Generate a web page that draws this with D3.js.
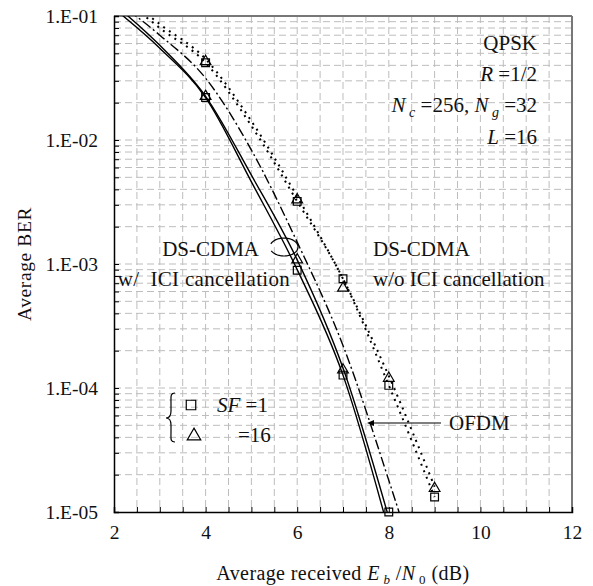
<!DOCTYPE html>
<html>
<head>
<meta charset="utf-8">
<script src="https://cdn.jsdelivr.net/npm/d3@7"></script>
<style>
  body { margin: 0; background: #fff; }
  text { font-family: 'Liberation Serif', 'Times New Roman', serif; fill: #111; }
</style>
</head>
<body>
<div id="chart"></div>
<script>
// Eb/N0 grid used for the curves (dB)
const ebn0 = [2, 3, 4, 5, 6, 7, 8, 9]

// DS-CDMA with ICI cancellation (solid)
const withIciSf1 = [0.115, 0.055, 0.022, 0.0046, 9.0e-4, 1.27e-4, 7e-6]
const withIciSf16 = [0.125, 0.058, 0.0225, 0.0052, 1.08e-3, 1.45e-4, 9e-6]
// OFDM (dash-dot)
const ofdm = [0.135, 0.07, 0.0315, 0.0083, 1.5e-3, 2.2e-4, 1.8e-5, 1.2e-6]
// DS-CDMA without ICI cancellation (dotted)
const withoutIciSf1 = [0.16, 0.08, 0.042, 0.013, 3.2e-3, 7.6e-4, 1.05e-4, 1.32e-5]
const withoutIciSf16 = [0.17, 0.086, 0.045, 0.0142, 3.5e-3, 7.6e-4, 1.25e-4, 1.6e-5]

// simulated points
const sqWithIciX = [4, 6, 7, 8]
const sqWithIciY = [0.022, 8.9e-4, 1.27e-4, 1.0e-5]
const triWithIciX = [4, 6, 7]
const triWithIciY = [0.0225, 1.08e-3, 1.4e-4]
const sqWithoutIciX = [4, 6, 7, 8, 9]
const sqWithoutIciY = [0.042, 3.2e-3, 7.6e-4, 1.05e-4, 1.32e-5]
const triWithoutIciX = [4, 6, 7, 8, 9]
const triWithoutIciY = [0.043, 3.3e-3, 6.4e-4, 1.2e-4, 1.55e-5]

const xTicks = [2, 4, 6, 8, 10, 12]
const yTicks = [1e-1, 1e-2, 1e-3, 1e-4, 1e-5]
const yTickLabels = ['1.E-01', '1.E-02', '1.E-03', '1.E-04', '1.E-05']

const width = 593
const height = 586
const margin = { left: 114, top: 16, right: 21, bottom: 74 }

const svg = d3.select('#chart')
  .append('svg')
  .attr('width', width)
  .attr('height', height)

const xScale = d3.scaleLinear()
  .domain([2, 12])
  .range([margin.left, width - margin.right])

const yScale = d3.scaleLog()
  .domain([1e-5, 1e-1])
  .range([height - margin.bottom, margin.top])

const [x0, x1] = xScale.range()
const [y0, y1] = yScale.range()

// grid
const xMinor = d3.range(2.5, 12, 0.5)
const yMinor = []
yTicks.slice(1).forEach(decade => {
  d3.range(1, 10).forEach(m => yMinor.push(decade * m))
})

svg.append('g')
  .selectAll('line')
  .data(xMinor)
  .join('line')
  .attr('x1', d => xScale(d))
  .attr('x2', d => xScale(d))
  .attr('y1', y1)
  .attr('y2', y0)
  .attr('stroke', '#bdbdbd')
  .attr('stroke-width', 1)
  .attr('stroke-dasharray', '7,4')

svg.append('g')
  .selectAll('line')
  .data(yMinor.filter(v => v > 1e-5 * 1.01 && v < 1e-1 * 0.99))
  .join('line')
  .attr('x1', x0)
  .attr('x2', x1)
  .attr('y1', d => yScale(d))
  .attr('y2', d => yScale(d))
  .attr('stroke', '#bdbdbd')
  .attr('stroke-width', 1)
  .attr('stroke-dasharray', '7,4')

// frame: top/right grey, left/bottom black
svg.append('line')
  .attr('x1', x0).attr('x2', x1).attr('y1', y1).attr('y2', y1)
  .attr('stroke', '#777').attr('stroke-width', 2)
svg.append('line')
  .attr('x1', x1).attr('x2', x1).attr('y1', y1).attr('y2', y0)
  .attr('stroke', '#777').attr('stroke-width', 2)

const tickFont = 19.5

const xAxis = d3.axisBottom(xScale)
  .tickValues(d3.range(2, 12.01, 0.5))
  .tickSize(-5)
  .tickFormat(d => (xTicks.includes(d) ? d : ''))

svg.append('g')
  .attr('transform', `translate(0, ${y0})`)
  .call(xAxis)
  .call(g => g.select('.domain').attr('stroke', '#000').attr('stroke-width', 1.5))
  .call(g => g.selectAll('.tick line').attr('stroke', '#000'))
  .call(g => g.selectAll('.tick text')
    .attr('y', 27)
    .attr('dy', 0)
    .style('font-size', tickFont + 'px'))

const yAxis = d3.axisLeft(yScale)
  .tickValues(yMinor.concat([1e-1]))
  .tickSize(-5)
  .tickFormat(d => {
    const i = yTicks.findIndex(t => Math.abs(t - d) / t < 1e-6)
    return i >= 0 ? yTickLabels[i] : ''
  })

svg.append('g')
  .attr('transform', `translate(${x0}, 0)`)
  .call(yAxis)
  .call(g => g.select('.domain').attr('stroke', '#000').attr('stroke-width', 1.5))
  .call(g => g.selectAll('.tick line').attr('stroke', '#000'))
  .call(g => g.selectAll('.tick text')
    .attr('x', -16)
    .style('font-size', tickFont + 'px'))

// curves
svg.append('defs')
  .append('clipPath')
  .attr('id', 'plot-clip')
  .append('rect')
  .attr('x', x0)
  .attr('y', y1)
  .attr('width', x1 - x0)
  .attr('height', y0 - y1)

const line = d3.line()
  .curve(d3.curveMonotoneX)
  .x(d => xScale(d[0]))
  .y(d => yScale(d[1]))

const plot = svg.append('g').attr('clip-path', 'url(#plot-clip)')

const series = [
  { values: withoutIciSf1, dash: '2,5', width: 2 },
  { values: withoutIciSf16, dash: '2,5', width: 2 },
  { values: ofdm, dash: '10,3,2,3', width: 1.4 },
  { values: withIciSf1, dash: null, width: 1.4 },
  { values: withIciSf16, dash: null, width: 1.4 },
]

series.forEach(s => {
  plot.append('path')
    .datum(s.values.map((v, i) => [ebn0[i], v]))
    .attr('fill', 'none')
    .attr('stroke', '#000')
    .attr('stroke-width', s.width)
    .attr('stroke-dasharray', s.dash)
    .attr('d', line)
})

// markers
const square = d3.symbol(d3.symbolSquare, 60)
const triangle = d3.symbol(d3.symbolTriangle, 50)

function drawMarkers(xs, ys, sym) {
  svg.append('g')
    .selectAll('path')
    .data(xs.map((x, i) => [x, ys[i]]))
    .join('path')
    .attr('transform', d => `translate(${xScale(d[0])}, ${yScale(d[1])})`)
    .attr('d', sym)
    .attr('fill', 'none')
    .attr('stroke', '#000')
    .attr('stroke-width', 1.2)
}

drawMarkers(sqWithIciX, sqWithIciY, square)
drawMarkers(triWithIciX, triWithIciY, triangle)
drawMarkers(sqWithoutIciX, sqWithoutIciY, square)
drawMarkers(triWithoutIciX, triWithoutIciY, triangle)

// axis titles
svg.append('text')
  .attr('transform', `translate(31, ${(y0 + y1) / 2}) rotate(-90)`)
  .attr('text-anchor', 'middle')
  .attr('font-size', 19.5)
  .attr('letter-spacing', 0.6)
  .text('Average BER')

const xTitle = svg.append('text')
  .attr('x', (x0 + x1) / 2)
  .attr('y', 580)
  .attr('text-anchor', 'middle')
  .attr('font-size', 20)
  .attr('letter-spacing', 0.4)
xTitle.append('tspan').text('Average received ')
xTitle.append('tspan').attr('font-style', 'italic').text('E')
xTitle.append('tspan').attr('font-size', 13).attr('font-style', 'italic').attr('dy', 4).text(' b')
xTitle.append('tspan').attr('dy', -4).text(' /')
xTitle.append('tspan').attr('font-style', 'italic').text('N')
xTitle.append('tspan').attr('font-size', 13).attr('dy', 4).text(' 0')
xTitle.append('tspan').attr('dy', -4).text(' (dB)')

// parameters, top right
const paramX = 537
const annoSize = 21

svg.append('text')
  .attr('x', paramX).attr('y', 50)
  .attr('text-anchor', 'end').attr('font-size', annoSize)
  .text('QPSK')

const rText = svg.append('text')
  .attr('x', paramX).attr('y', 81)
  .attr('text-anchor', 'end').attr('font-size', annoSize)
rText.append('tspan').attr('font-style', 'italic').text('R')
rText.append('tspan').text(' =1/2')

const nText = svg.append('text')
  .attr('x', paramX).attr('y', 112)
  .attr('text-anchor', 'end').attr('font-size', annoSize)
nText.append('tspan').attr('font-style', 'italic').text('N')
nText.append('tspan').attr('font-style', 'italic').attr('font-size', 14).attr('dy', 5).text(' c')
nText.append('tspan').attr('dy', -5).text(' =256, ')
nText.append('tspan').attr('font-style', 'italic').text('N')
nText.append('tspan').attr('font-style', 'italic').attr('font-size', 14).attr('dy', 5).text(' g')
nText.append('tspan').attr('dy', -5).text(' =32')

const lText = svg.append('text')
  .attr('x', paramX).attr('y', 144)
  .attr('text-anchor', 'end').attr('font-size', annoSize)
lText.append('tspan').attr('font-style', 'italic').text('L')
lText.append('tspan').text(' =16')

// DS-CDMA labels
svg.append('text')
  .attr('x', 259).attr('y', 256)
  .attr('text-anchor', 'end').attr('font-size', annoSize)
  .text('DS-CDMA')
svg.append('text')
  .attr('x', 290).attr('y', 286)
  .attr('text-anchor', 'end').attr('font-size', annoSize)
  .attr('letter-spacing', 0.3)
  .text('w/  ICI cancellation')
  .style('white-space', 'pre')

svg.append('text')
  .attr('x', 373).attr('y', 256)
  .attr('font-size', annoSize)
  .text('DS-CDMA')
svg.append('text')
  .attr('x', 373).attr('y', 286)
  .attr('font-size', annoSize)
  .text('w/o ICI cancellation')

// loop around the solid curves
svg.append('path')
  .attr('d', () => {
    const cx = 284, cy = 247, rx = 14, ry = 9
    const pts = d3.range(200, 520, 5).map(a => {
      const r = (a * Math.PI) / 180
      return [cx + rx * Math.cos(r), cy + ry * Math.sin(r)]
    })
    return d3.line()(pts)
  })
  .attr('fill', 'none')
  .attr('stroke', '#000')
  .attr('stroke-width', 1.2)

// OFDM pointer
svg.append('line')
  .attr('x1', 441).attr('x2', 370).attr('y1', 423).attr('y2', 423)
  .attr('stroke', '#000').attr('stroke-width', 1.2)
svg.append('path')
  .attr('d', 'M367,423 L374,420 L374,426 Z')
  .attr('fill', '#000')
svg.append('text')
  .attr('x', 449).attr('y', 430)
  .attr('font-size', annoSize)
  .text('OFDM')

// SF legend
svg.append('path')
  .attr('d', 'M175,393 C170,393 171,397 171,404 L171,411 C171,416 169,418 166,418 C169,418 171,420 171,425 L171,432 C171,439 170,442 175,442')
  .attr('fill', 'none')
  .attr('stroke', '#000')
  .attr('stroke-width', 1.2)

svg.append('path')
  .attr('transform', 'translate(191, 405)')
  .attr('d', d3.symbol(d3.symbolSquare, 90))
  .attr('fill', 'none').attr('stroke', '#000').attr('stroke-width', 1.2)
svg.append('path')
  .attr('transform', 'translate(194, 436)')
  .attr('d', d3.symbol(d3.symbolTriangle, 80))
  .attr('fill', 'none').attr('stroke', '#000').attr('stroke-width', 1.2)

const sfText = svg.append('text')
  .attr('x', 217).attr('y', 412)
  .attr('font-size', annoSize)
sfText.append('tspan').attr('font-style', 'italic').text('SF')
sfText.append('tspan').text(' =1')

svg.append('text')
  .attr('x', 238).attr('y', 442)
  .attr('font-size', annoSize)
  .text('=16')
</script>
</body>
</html>
